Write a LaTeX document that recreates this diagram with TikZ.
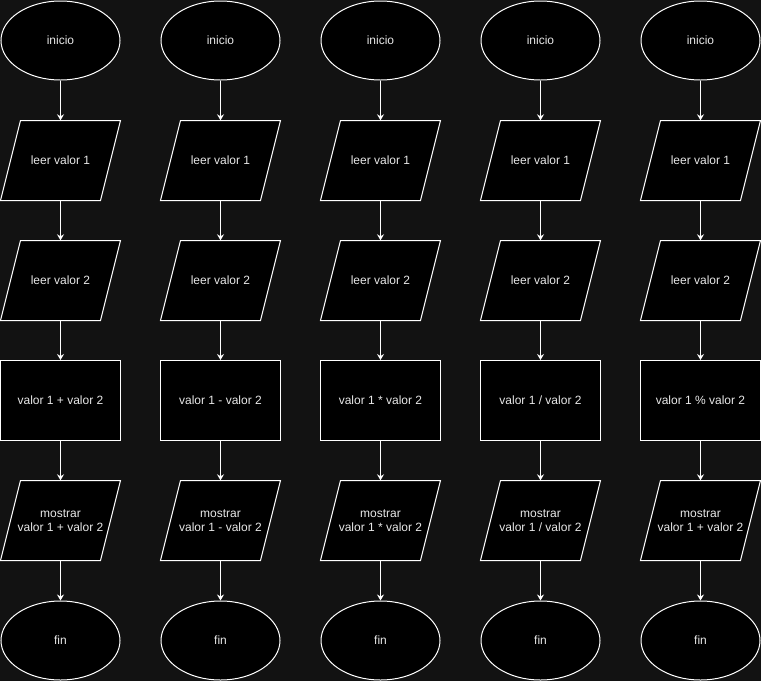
\documentclass[tikz,border=0pt]{standalone}
\usepackage{fontspec}
\setmainfont{Liberation Sans}
\usetikzlibrary{shapes.geometric,arrows.meta}
\definecolor{bg}{HTML}{121212}
\definecolor{txt}{HTML}{E8E8E8}
\tikzset{
  base/.style={text=txt, font=\fontsize{12}{14.5}\selectfont, align=center, inner sep=0pt},
  term/.style={base, ellipse, draw=white, fill=black, line width=1pt, minimum width=119pt, minimum height=79pt},
  proc/.style={base, rectangle, draw=white, fill=black, line width=1pt, minimum width=120pt, minimum height=80pt},
  io/.style={base, rectangle, minimum width=120pt, minimum height=80pt},
  parashape/.style={draw=white, fill=black, line width=1pt, line join=miter},
  conn/.style={draw=white, line width=1pt, -{Stealth[length=6pt,width=7pt,inset=2pt]}}
}
\newcommand{\opslash}{/}
\begin{document}
\begin{tikzpicture}[x=1pt,y=-1pt]
\fill[bg] (0,0) rectangle (761,681);
\useasboundingbox (0,0) rectangle (761,681);
\foreach \c/\op/\sh [count=\k] in {0/+/+, 160/-/-, 320/*/*, 480/\opslash/\opslash, 640/\%/+} {
  \node[term] (i\k) at (\c+60.5,40.5) {inicio};
  \foreach \y/\nm/\tx in {120/a/leer valor 1, 240/b/leer valor 2} {
    \draw[parashape] (\c+20.5,\y+0.5) -- (\c+120.5,\y+0.5) -- (\c+100.5,\y+80.5) -- (\c+0.5,\y+80.5) -- cycle;
    \node[io] (\nm\k) at (\c+60.5,\y+40.5) {\tx};
  }
  \node[proc] (c\k) at (\c+60.5,400.5) {valor 1 \op\ valor 2};
  \draw[parashape] (\c+20.5,480.5) -- (\c+120.5,480.5) -- (\c+100.5,560.5) -- (\c+0.5,560.5) -- cycle;
  \node[io] (d\k) at (\c+60.5,520.5) {mostrar\\valor 1 \sh\ valor 2};
  \node[term] (f\k) at (\c+60.5,640.5) {fin};
  \draw[conn] (i\k.south) -- (a\k.north);
  \draw[conn] (a\k.south) -- (b\k.north);
  \draw[conn] (b\k.south) -- (c\k.north);
  \draw[conn] (c\k.south) -- (d\k.north);
  \draw[conn] (d\k.south) -- (f\k.north);
}
\end{tikzpicture}
\end{document}
